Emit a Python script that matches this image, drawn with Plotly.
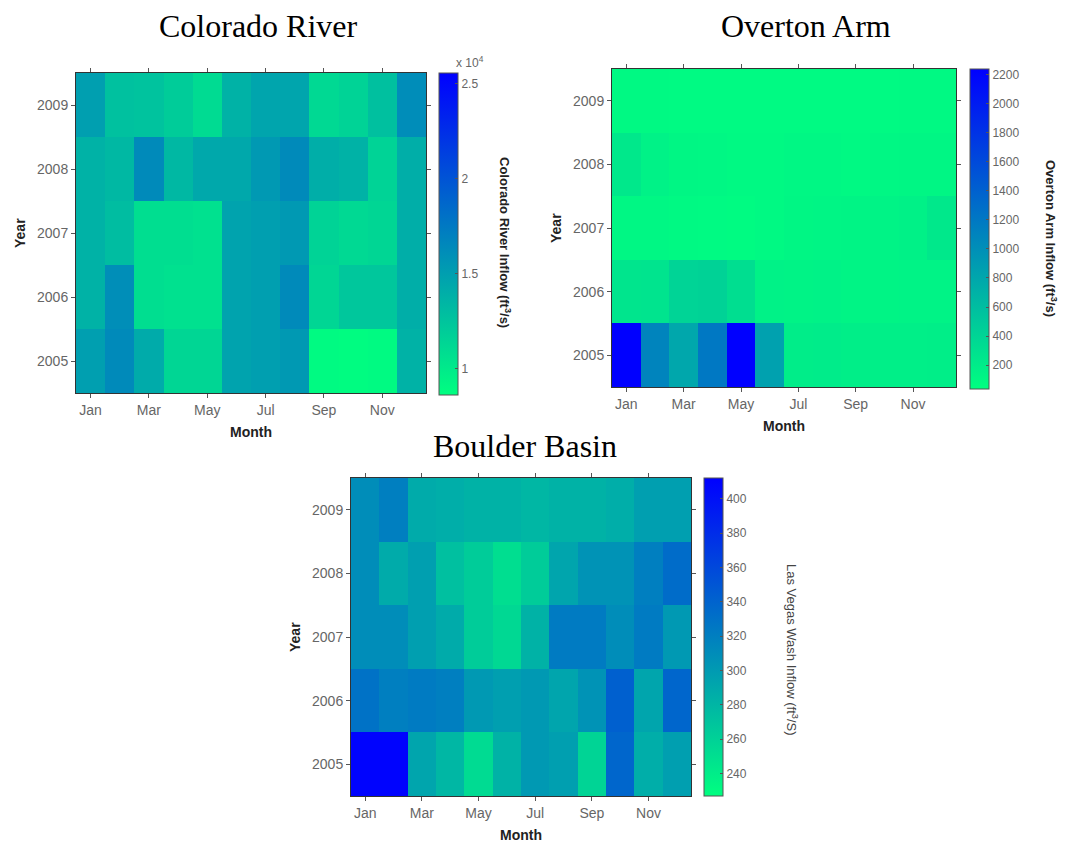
import plotly.graph_objects as go

W, H = 1065, 842

months = ["Jan", "Feb", "Mar", "Apr", "May", "Jun", "Jul", "Aug", "Sep", "Oct", "Nov", "Dec"]
month_nums = list(range(1, 13))
years = [2005, 2006, 2007, 2008, 2009]
month_tick_vals = [1, 3, 5, 7, 9, 11]
month_tick_text = ["Jan", "Mar", "May", "Jul", "Sep", "Nov"]

# Colorado River inflow (ft^3/s), rows = 2005..2009, cols = Jan..Dec
colorado_2005 = [15000, 16400, 14200, 11300, 11300, 14700, 15000, 15400, 8900, 8800, 8900, 13700]
colorado_2006 = [13700, 16100, 10800, 10600, 10600, 14700, 15000, 16400, 11300, 12300, 12300, 14000]
colorado_2007 = [13700, 13000, 10800, 10800, 10600, 14700, 15000, 15400, 11500, 11100, 11300, 14000]
colorado_2008 = [13700, 13300, 16400, 13300, 14400, 14400, 15400, 16400, 14000, 13700, 11500, 14000]
colorado_2009 = [15000, 12700, 12600, 12000, 11000, 13700, 14600, 14600, 11100, 11500, 12800, 16200]

# Overton Arm inflow (ft^3/s)
overton_2005 = [2250, 1100, 800, 1200, 2250, 850, 190, 200, 180, 170, 170, 180]
overton_2006 = [260, 270, 410, 420, 320, 150, 140, 150, 130, 130, 140, 140]
overton_2007 = [100, 100, 90, 80, 70, 90, 110, 120, 130, 140, 160, 230]
overton_2008 = [230, 150, 110, 100, 90, 90, 100, 100, 90, 100, 110, 110]
overton_2009 = [90, 90, 80, 80, 80, 80, 80, 80, 80, 80, 90, 90]

# Boulder Basin / Las Vegas Wash inflow (ft^3/s)
boulder_2005 = [410, 410, 292, 279, 253, 283, 301, 297, 258, 338, 286, 297]
boulder_2006 = [329, 320, 323, 320, 301, 297, 301, 292, 305, 342, 292, 338]
boulder_2007 = [310, 310, 297, 288, 264, 255, 283, 323, 323, 310, 323, 301]
boulder_2008 = [310, 288, 297, 273, 264, 251, 264, 292, 305, 305, 320, 334]
boulder_2009 = [310, 320, 288, 286, 283, 283, 279, 283, 283, 286, 297, 297]

colorado = [colorado_2005, colorado_2006, colorado_2007, colorado_2008, colorado_2009]
overton = [overton_2005, overton_2006, overton_2007, overton_2008, overton_2009]
boulder = [boulder_2005, boulder_2006, boulder_2007, boulder_2008, boulder_2009]

colorado_range = (8600, 25560)
overton_range = (35, 2240)
boulder_range = (227, 412)

colorado_cb_vals = [10000, 15000, 20000, 25000]
colorado_cb_text = ["1", "1.5", "2", "2.5"]
overton_cb_vals = [200, 400, 600, 800, 1000, 1200, 1400, 1600, 1800, 2000, 2200]
boulder_cb_vals = [240, 260, 280, 300, 320, 340, 360, 380, 400]

winter_r = [[0.0, "rgb(0,255,128)"], [1.0, "rgb(0,0,255)"]]

TICK_FONT = dict(family="Liberation Sans, Arial, sans-serif", size=14, color="#666666")
CB_FONT = dict(family="Liberation Sans, Arial, sans-serif", size=12, color="#666666")
LABEL_FONT = dict(family="Liberation Sans, Arial, sans-serif", size=14, color="#222222")
TITLE_FONT = dict(family="Liberation Serif, Times New Roman, serif", size=32, color="#000000")


def px_x(p):
    return p / W


def px_y(p):
    return 1 - p / H


# panels: (left, right, top, bottom) in pixels; colorbar (left, top, bottom)
panels = [
    dict(box=(76, 426, 73, 393), cb=(439, 73, 395), z=colorado, rng=colorado_range,
         cbvals=colorado_cb_vals, cbtext=colorado_cb_text),
    dict(box=(612, 956, 69, 387), cb=(970, 69, 389), z=overton, rng=overton_range,
         cbvals=overton_cb_vals, cbtext=[str(v) for v in overton_cb_vals]),
    dict(box=(351, 691, 478, 796), cb=(704, 478, 796), z=boulder, rng=boulder_range,
         cbvals=boulder_cb_vals, cbtext=[str(v) for v in boulder_cb_vals]),
]

fig = go.Figure()
layout_axes = {}
for i, p in enumerate(panels):
    n = "" if i == 0 else str(i + 1)
    l, r, t, b = p["box"]
    cbl, cbt, cbb = p["cb"]
    fig.add_trace(go.Heatmap(
        x=month_nums, y=years, z=p["z"],
        colorscale=winter_r, zmin=p["rng"][0], zmax=p["rng"][1],
        xaxis="x" + n, yaxis="y" + n,
        hoverongaps=False,
        colorbar=dict(
            x=px_x(cbl), xanchor="left", y=px_y(cbt), yanchor="top",
            len=(cbb - cbt) / H, lenmode="fraction",
            thickness=19, thicknessmode="pixels",
            xpad=0, ypad=0,
            outlinewidth=1, outlinecolor="#555555",
            tickmode="array", tickvals=p["cbvals"], ticktext=p["cbtext"],
            ticks="inside", ticklen=3, tickcolor="#555555",
            tickfont=CB_FONT,
        ),
    ))
    layout_axes["xaxis" + n] = dict(
        domain=[px_x(l), px_x(r)], anchor="y" + n,
        range=[0.5, 12.5], tickmode="array", tickvals=month_tick_vals, ticktext=month_tick_text,
        ticks="outside", ticklen=4, tickcolor="#555555",
        showline=True, linecolor="#333333", linewidth=1, mirror="ticks",
        showgrid=False, zeroline=False, tickfont=TICK_FONT,
    )
    layout_axes["yaxis" + n] = dict(
        domain=[px_y(b), px_y(t)], anchor="x" + n,
        range=[2004.5, 2009.5], tickmode="array", tickvals=years,
        ticks="outside", ticklen=4, tickcolor="#555555",
        showline=True, linecolor="#333333", linewidth=1, mirror="ticks",
        showgrid=False, zeroline=False, tickfont=TICK_FONT,
    )

annotations = []
# panel titles
for txt, cx, cy in [("Colorado River", 258, 26), ("Overton Arm", 806, 26), ("Boulder Basin", 525, 446)]:
    annotations.append(dict(text=txt, x=px_x(cx), y=px_y(cy), xref="paper", yref="paper",
                            xanchor="center", yanchor="middle", showarrow=False, font=TITLE_FONT))

# axis labels
for i, p in enumerate(panels):
    l, r, t, b = p["box"]
    annotations.append(dict(text="<b>Month</b>", x=px_x((l + r) / 2), y=px_y(b + 39), xref="paper", yref="paper",
                            xanchor="center", yanchor="middle", showarrow=False, font=LABEL_FONT))
    annotations.append(dict(text="<b>Year</b>", x=px_x(l - 56), y=px_y((t + b) / 2), xref="paper", yref="paper",
                            xanchor="center", yanchor="middle", showarrow=False, font=LABEL_FONT, textangle=-90))

# colorbar titles
cb_titles = [
    ("<b>Colorado River Inflow (ft<sup>3</sup>/s)</b>", 505, 242, "#222222"),
    ("<b>Overton Arm Inflow (ft<sup>3</sup>/s)</b>", 1051, 238, "#222222"),
    ("Las Vegas Wash Inflow (ft<sup>3</sup>/S)", 792, 650, "#444444"),
]
for txt, cx, cy, col in cb_titles:
    annotations.append(dict(text=txt, x=px_x(cx), y=px_y(cy), xref="paper", yref="paper",
                            xanchor="center", yanchor="middle", showarrow=False, textangle=90,
                            font=dict(family="Liberation Sans, Arial, sans-serif", size=13, color=col)))

# exponent label above Colorado colorbar
annotations.append(dict(text="x 10<sup>4</sup>", x=px_x(470), y=px_y(62), xref="paper", yref="paper",
                        xanchor="center", yanchor="middle", showarrow=False, font=CB_FONT))

fig.update_layout(
    width=W, height=H,
    margin=dict(l=0, r=0, t=0, b=0),
    paper_bgcolor="white", plot_bgcolor="white",
    annotations=annotations,
    **layout_axes,
)

fig.write_html(
    "out.html",
    config={"displayModeBar": False},
    post_script="document.body.style.margin='0';document.body.style.overflow='hidden';",
)
